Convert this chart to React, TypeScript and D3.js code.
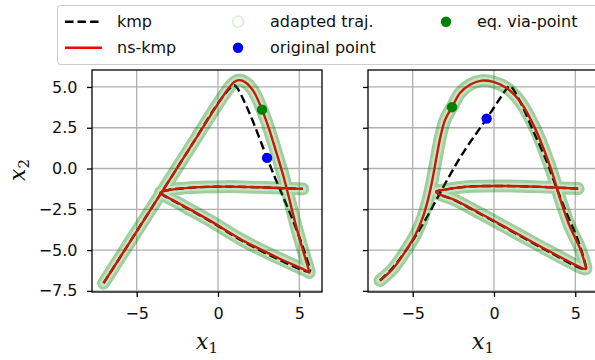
import * as d3 from "d3";
import React, { useEffect, useRef } from "react";

type Pt = [number, number];

const xTicks = [-5, 0, 5];
const yTicks = [-7.5, -5, -2.5, 0, 2.5, 5];

// left panel (via-point on the right leg of the "A")
const kmpLeft: Pt[] = [
  [-7.04, -7.03], [-5.5, -4.63], [-3.55, -1.59], [-1.6, 1.46], [0.2, 4.27],
  [0.98, 5.1], [1.15, 4.98], [1.89, 3.51], [3.02, 0.65], [3.64, -0.88],
  [4.35, -2.54], [5.07, -4.38], [5.55, -5.8], [5.65, -6.3], [5.4, -6.3],
  [3.74, -5.58], [1.48, -4.43], [-0.57, -3.18], [-2.42, -2.15], [-3.35, -1.64],
  [-3.55, -1.48], [-3.1, -1.33], [-1.6, -1.17], [0.45, -1.11], [2.5, -1.15],
  [4.15, -1.21], [5.22, -1.25],
];
const nsKmpLeft: Pt[] = [
  [-7.04, -7.03], [-5.5, -4.63], [-3.55, -1.59], [-1.6, 1.46], [0.2, 4.27],
  [0.7, 4.98], [1.0, 5.3], [1.3, 5.42], [1.7, 5.28], [2.2, 4.72],
  [2.71, 3.61], [3.12, 2.49], [3.63, 0.86], [4.04, -0.52], [4.35, -1.72],
  [4.76, -3.36], [5.28, -5.19], [5.55, -6.1], [5.62, -6.38], [5.4, -6.25],
  [3.74, -5.5], [1.48, -4.38], [-0.57, -3.15], [-2.42, -2.13], [-3.35, -1.62],
  [-3.55, -1.48], [-3.1, -1.33], [-1.6, -1.17], [0.45, -1.11], [2.5, -1.15],
  [4.15, -1.21], [5.22, -1.25],
];
const originalLeft: Pt = [3.02, 0.65];
const viaLeft: Pt = [2.71, 3.61];

// right panel (via-point on the left leg)
const kmpRight: Pt[] = [
  [-7.01, -6.87], [-6.2, -6.05], [-5.4, -5.0], [-4.7, -3.95], [-4.05, -2.85],
  [-3.45, -1.75], [-2.85, -0.65], [-1.89, 0.98], [-0.45, 3.06], [0.37, 4.3],
  [0.8, 4.92], [0.97, 5.08], [1.12, 4.95], [1.7, 3.92], [2.42, 2.29],
  [3.24, 0.45], [3.65, -0.67], [4.47, -2.74], [5.08, -4.17], [5.55, -5.6],
  [5.65, -6.15], [5.3, -6.1], [3.44, -5.14], [1.39, -4.01], [-0.66, -2.88],
  [-2.5, -1.91], [-3.42, -1.56], [-3.55, -1.42], [-2.91, -1.28], [-1.68, -1.11],
  [0.37, -1.07], [2.42, -1.11], [3.85, -1.17], [5.18, -1.23],
];
const nsKmpRight: Pt[] = [
  [-7.01, -6.87], [-6.19, -6.11], [-5.4, -5.0], [-4.8, -4.0], [-4.38, -3.0],
  [-4.08, -2.0], [-3.85, -1.0], [-3.66, 0.0], [-3.48, 1.0], [-3.28, 2.0],
  [-3.0, 3.0], [-2.58, 3.76], [-2.09, 4.63], [-1.48, 5.14], [-0.76, 5.39],
  [-0.04, 5.31], [0.78, 4.94], [1.6, 4.12], [2.42, 2.69], [3.03, 1.27],
  [3.55, -0.16], [4.16, -2.13], [4.67, -3.56], [5.29, -4.89], [5.6, -5.85],
  [5.66, -6.15], [5.45, -6.12], [5.29, -6.05], [3.44, -5.09], [1.39, -3.97],
  [-0.66, -2.85], [-2.5, -1.89], [-3.42, -1.55], [-3.55, -1.42], [-2.91, -1.28],
  [-1.68, -1.11], [0.37, -1.07], [2.42, -1.11], [3.85, -1.17], [5.18, -1.23],
];
const originalRight: Pt = [-0.45, 3.06];
const viaRight: Pt = [-2.58, 3.76];

const legendLabels = ["kmp", "ns-kmp", "adapted traj.", "original point", "eq. via-point"];

const App = () => {
  const svgRef = useRef<SVGSVGElement>(null);

  useEffect(() => {
    const W = 595,
      H = 360;
    const top = 70,
      bottom = 292,
      pw = 230;
    const font = "'DejaVu Sans', sans-serif";

    const svg = d3
      .select(svgRef.current)
      .html("")
      .attr("width", W)
      .attr("height", H)
      .style("position", "absolute")
      .style("left", 0)
      .style("top", 0)
      .style("background", "white");

    const defs = svg.append("defs");

    const panels = [
      { left: 92, kmp: kmpLeft, ns: nsKmpLeft, orig: originalLeft, via: viaLeft, labels: true },
      { left: 368, kmp: kmpRight, ns: nsKmpRight, orig: originalRight, via: viaRight, labels: false },
    ];

    panels.forEach((p, i) => {
      const x = d3.scaleLinear().domain([-7.75, 6.4]).range([p.left, p.left + pw]);
      const y = d3.scaleLinear().domain([-7.57, 6.04]).range([bottom, top]);

      const line = d3
        .line<Pt>()
        .x((d) => x(d[0]))
        .y((d) => y(d[1]))
        .curve(d3.curveCatmullRom.alpha(0.5));

      defs
        .append("clipPath")
        .attr("id", `clip${i}`)
        .append("rect")
        .attr("x", p.left)
        .attr("y", top)
        .attr("width", pw)
        .attr("height", bottom - top);

      // grid
      const grid = svg.append("g").attr("stroke", "#b0b0b0").attr("stroke-width", 1.3);
      xTicks.forEach((t) => {
        grid.append("line").attr("x1", x(t)).attr("x2", x(t)).attr("y1", top).attr("y2", bottom);
      });
      yTicks.forEach((t) => {
        grid.append("line").attr("x1", p.left).attr("x2", p.left + pw).attr("y1", y(t)).attr("y2", y(t));
      });

      const plot = svg.append("g").attr("clip-path", `url(#clip${i})`);

      // kmp (dashed)
      plot
        .append("path")
        .attr("d", line(p.kmp))
        .attr("fill", "none")
        .attr("stroke", "black")
        .attr("stroke-width", 2.4)
        .attr("stroke-dasharray", "8.5,4");

      // ns-kmp
      plot
        .append("path")
        .attr("d", line(p.ns))
        .attr("fill", "none")
        .attr("stroke", "red")
        .attr("stroke-width", 2.4);

      // adapted traj. band: light fill + softer darker rim
      const mask = defs
        .append("mask")
        .attr("id", `rim${i}`)
        .attr("maskUnits", "userSpaceOnUse")
        .attr("x", 0)
        .attr("y", 0)
        .attr("width", W)
        .attr("height", H);
      mask
        .append("path")
        .attr("d", line(p.ns))
        .attr("fill", "none")
        .attr("stroke", "white")
        .attr("stroke-width", 13)
        .attr("stroke-linecap", "round")
        .attr("stroke-linejoin", "round");
      mask
        .append("path")
        .attr("d", line(p.ns))
        .attr("fill", "none")
        .attr("stroke", "black")
        .attr("stroke-width", 7)
        .attr("stroke-linecap", "round")
        .attr("stroke-linejoin", "round");

      plot
        .append("path")
        .attr("d", line(p.ns))
        .attr("fill", "none")
        .attr("stroke", "green")
        .attr("stroke-opacity", 0.22)
        .attr("stroke-width", 13)
        .attr("stroke-linecap", "round")
        .attr("stroke-linejoin", "round");
      plot
        .append("path")
        .attr("d", line(p.ns))
        .attr("fill", "none")
        .attr("stroke", "green")
        .attr("stroke-opacity", 0.2)
        .attr("stroke-width", 13)
        .attr("stroke-linecap", "round")
        .attr("stroke-linejoin", "round")
        .attr("mask", `url(#rim${i})`);

      plot.append("circle").attr("cx", x(p.orig[0])).attr("cy", y(p.orig[1])).attr("r", 5.2).attr("fill", "blue");
      plot.append("circle").attr("cx", x(p.via[0])).attr("cy", y(p.via[1])).attr("r", 5.2).attr("fill", "green");

      // axes
      const xAxis = svg
        .append("g")
        .attr("transform", `translate(0,${bottom})`)
        .call(d3.axisBottom(x).tickValues(xTicks).tickSize(5).tickPadding(10.5).tickFormat(d3.format("d")));
      const yAxis = svg
        .append("g")
        .attr("transform", `translate(${p.left},0)`)
        .call(
          d3
            .axisLeft(y)
            .tickValues(yTicks)
            .tickSize(5)
            .tickPadding(9.5)
            .tickFormat(p.labels ? d3.format(".1f") : () => "")
        );
      [xAxis, yAxis].forEach((a) => {
        a.attr("font-size", 16).attr("font-family", font);
        a.select(".domain").remove();
        a.selectAll(".tick line").attr("stroke", "black").attr("stroke-width", 1.3);
        a.selectAll(".tick text").attr("fill", "#111");
      });

      svg
        .append("rect")
        .attr("x", p.left)
        .attr("y", top)
        .attr("width", pw)
        .attr("height", bottom - top)
        .attr("fill", "none")
        .attr("stroke", "black")
        .attr("stroke-width", 1.3);

      const xl = svg
        .append("text")
        .attr("x", p.left + pw / 2)
        .attr("y", 349)
        .attr("text-anchor", "middle")
        .attr("font-family", "'DejaVu Serif', serif")
        .attr("font-size", 22)
        .attr("fill", "#111");
      xl.append("tspan").attr("font-style", "italic").text("x");
      xl.append("tspan").attr("font-size", 15).attr("dy", 4).text("1");
    });

    const yl = svg
      .append("text")
      .attr("transform", "translate(25,170) rotate(-90)")
      .attr("text-anchor", "middle")
      .attr("font-family", "'DejaVu Serif', serif")
      .attr("font-size", 22)
      .attr("fill", "#111");
    yl.append("tspan").attr("font-style", "italic").text("x");
    yl.append("tspan").attr("font-size", 15).attr("dy", 4).text("2");

    // legend
    const legend = svg.append("g").attr("font-family", font).attr("font-size", 16);
    legend
      .append("rect")
      .attr("x", 57.5)
      .attr("y", 5.5)
      .attr("width", 560)
      .attr("height", 59)
      .attr("rx", 3)
      .attr("fill", "white")
      .attr("fill-opacity", 0.8)
      .attr("stroke", "#cccccc")
      .attr("stroke-width", 1);

    const rows = [21.7, 47.7];
    const colHandle = [65, 238, 446];
    const colText = [117, 270, 477];

    legend
      .append("line")
      .attr("x1", colHandle[0])
      .attr("x2", colHandle[0] + 37)
      .attr("y1", rows[0])
      .attr("y2", rows[0])
      .attr("stroke", "black")
      .attr("stroke-width", 2.4)
      .attr("stroke-dasharray", "8.5,4");
    legend
      .append("line")
      .attr("x1", colHandle[0])
      .attr("x2", colHandle[0] + 37)
      .attr("y1", rows[1])
      .attr("y2", rows[1])
      .attr("stroke", "red")
      .attr("stroke-width", 2.4);
    legend
      .append("circle")
      .attr("cx", colHandle[1])
      .attr("cy", rows[0])
      .attr("r", 5.5)
      .attr("fill", "white")
      .attr("stroke", "green")
      .attr("stroke-opacity", 0.15)
      .attr("stroke-width", 1.5);
    legend.append("circle").attr("cx", colHandle[1]).attr("cy", rows[1]).attr("r", 5.2).attr("fill", "blue");
    legend.append("circle").attr("cx", colHandle[2]).attr("cy", rows[0]).attr("r", 5.2).attr("fill", "green");

    legendLabels.forEach((label, k) => {
      const col = Math.floor(k / 2);
      const row = k % 2;
      legend
        .append("text")
        .attr("x", colText[col])
        .attr("y", rows[row] + 5.5)
        .attr("fill", "#111")
        .text(label);
    });
  }, []);

  return (
    <div>
      <svg ref={svgRef} />
    </div>
  );
};

export default App;
